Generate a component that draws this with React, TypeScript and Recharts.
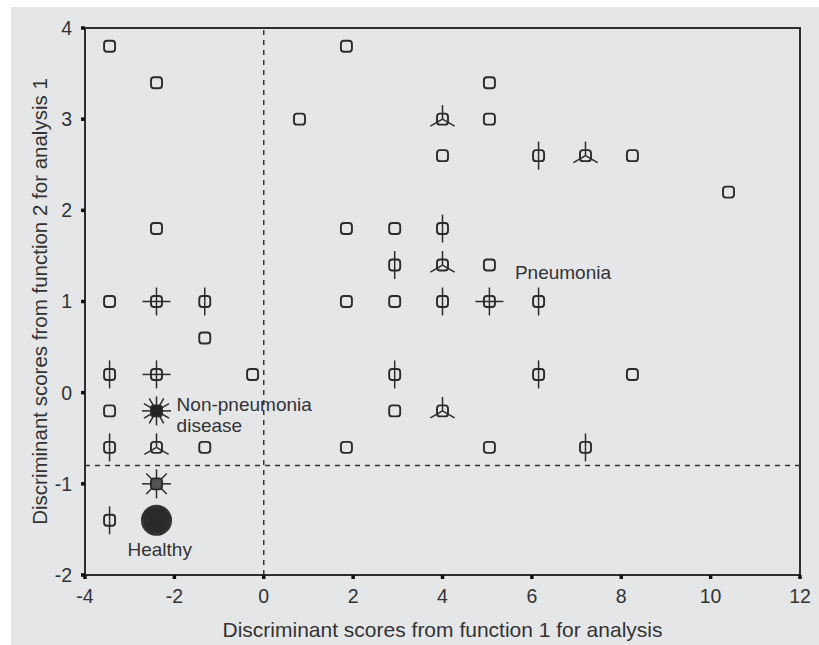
import { ScatterChart, Scatter, XAxis, YAxis, ReferenceLine, ReferenceArea } from 'recharts';

// one entry per sunflower: score on function 1, score on function 2, number of cases
const xScores = [
  -3.45, -3.45, -3.45, -3.45, -3.45, -3.45,
  -2.4, -2.4, -2.4, -2.4, -2.4, -2.4, -2.4, -2.4,
  -1.32, -1.32, -1.32,
  -0.25,
  0.8,
  1.85, 1.85, 1.85, 1.85,
  2.93, 2.93, 2.93, 2.93, 2.93,
  4.0, 4.0, 4.0, 4.0, 4.0, 4.0,
  5.05, 5.05, 5.05, 5.05, 5.05,
  6.15, 6.15, 6.15,
  7.2, 7.2,
  8.25, 8.25,
  10.4,
];
const yScores = [
  3.8, 1.0, 0.2, -0.2, -0.6, -1.4,
  3.4, 1.8, 1.0, 0.2, -0.2, -0.6, -1.0, -1.4,
  1.0, 0.6, -0.6,
  0.2,
  3.0,
  3.8, 1.8, 1.0, -0.6,
  1.8, 1.4, 1.0, 0.2, -0.2,
  3.0, 2.6, 1.8, 1.4, 1.0, -0.2,
  3.4, 3.0, 1.4, 1.0, -0.6,
  2.6, 1.0, 0.2,
  2.6, -0.6,
  2.6, 0.2,
  2.2,
];
const caseCounts = [
  1, 1, 2, 1, 2, 2,
  1, 1, 4, 4, 12, 3, 8, 40,
  2, 1, 1,
  1,
  1,
  1, 1, 1, 1,
  1, 2, 1, 2, 1,
  3, 1, 2, 3, 2, 3,
  1, 1, 1, 4, 1,
  2, 2, 2,
  3, 2,
  1, 1,
  1,
];

const xTicks = [-4, -2, 0, 2, 4, 6, 8, 10, 12];
const yTicks = [-2, -1, 0, 1, 2, 3, 4];

const groupNames = [['Pneumonia'], ['Non-pneumonia', 'disease'], ['Healthy']];
const groupX = [5.62, -1.95, -3.05];
const groupY = [1.32, -0.12, -1.72];

const cutX = 0;
const cutY = -0.8;

const points = xScores.map((x, i) => ({ x, y: yScores[i], n: caseCounts[i] }));
const groupLabels = groupNames.map((lines, i) => ({ x: groupX[i], y: groupY[i], lines }));

const ink = '#2b2b2b';
const font = '"Liberation Sans", Arial, Helvetica, sans-serif';

function Sunflower(props: any) {
  const { cx, cy, payload } = props;
  const n = payload.n;
  const petals = [];
  const big = n > 20;
  const len = big ? 15.5 : n >= 8 ? 14.5 : 14;
  if (n > 1) {
    for (let k = 0; k < n; k++) {
      const a = Math.PI / 2 + (k * 2 * Math.PI) / n;
      petals.push(
        <line
          key={k}
          x1={cx}
          y1={cy}
          x2={cx + len * Math.cos(a)}
          y2={cy - len * Math.sin(a)}
          stroke={ink}
          strokeWidth={big ? 2.4 : 1.5}
        />
      );
    }
  }
  if (big) {
    return (
      <g>
        <circle cx={cx} cy={cy} r={12.5} fill="#111" />
        {petals}
      </g>
    );
  }
  const fill = n >= 12 ? '#222' : n >= 8 ? '#555' : 'none';
  return (
    <g>
      {petals}
      <rect x={cx - 5.5} y={cy - 5.5} width={11} height={11} rx={3} fill={fill} stroke={ink} strokeWidth={1.9} />
    </g>
  );
}

function GroupText(props: any) {
  const { cx, cy, payload } = props;
  return (
    <text x={cx} y={cy} fill="#333" fontSize={19} fontFamily={font} dominantBaseline="central">
      {payload.lines.map((t: string, i: number) => (
        <tspan key={i} x={cx} dy={i === 0 ? 0 : 21}>
          {t}
        </tspan>
      ))}
    </text>
  );
}

export default function App() {
  return (
    <div style={{ position: 'absolute', left: 0, top: 0, width: 819, height: 645, background: '#fff' }}>
      <div style={{ position: 'absolute', left: 11, top: 7, width: 808, height: 638, background: '#e5e6e8' }} />
      <div style={{ position: 'absolute', left: 0, top: 0 }}>
        <ScatterChart width={819} height={645} margin={{ top: 28, right: 19, bottom: 0, left: 25 }}>
          <XAxis
            type="number"
            dataKey="x"
            domain={[-4, 12]}
            ticks={xTicks}
            allowDataOverflow
            axisLine={false}
            tickSize={4}
            tickMargin={10}
            tickLine={{ stroke: '#111', strokeWidth: 3.5 }}
            tick={{ fill: '#333', fontSize: 19.5, fontFamily: font }}
            height={70}
            label={{
              value: 'Discriminant scores from function 1 for analysis',
              position: 'insideBottom',
              offset: 8,
              fill: '#333',
              fontSize: 21,
              fontFamily: font,
            }}
          />
          <YAxis
            type="number"
            dataKey="y"
            domain={[-2, 4]}
            ticks={yTicks}
            allowDataOverflow
            axisLine={false}
            tickSize={4}
            tickMargin={9}
            tickLine={{ stroke: '#111', strokeWidth: 3.5 }}
            tick={{ fill: '#333', fontSize: 19.5, fontFamily: font }}
            width={60}
            label={{
              value: 'Discriminant scores from function 2 for analysis 1',
              angle: -90,
              position: 'insideLeft',
              offset: 15,
              fill: '#333',
              fontSize: 20.5,
              fontFamily: font,
              style: { textAnchor: 'middle' },
            }}
          />
          <ReferenceArea x1={-4} x2={12} y1={-2} y2={4} fill="none" stroke="#2e2e2e" strokeWidth={2} />
          <ReferenceLine x={cutX} stroke="#333" strokeWidth={1.5} strokeDasharray="5 5" />
          <ReferenceLine y={cutY} stroke="#333" strokeWidth={1.5} strokeDasharray="5 5" />
          <Scatter data={points} shape={Sunflower} isAnimationActive={false} />
          <Scatter data={groupLabels} shape={GroupText} isAnimationActive={false} />
        </ScatterChart>
      </div>
    </div>
  );
}
